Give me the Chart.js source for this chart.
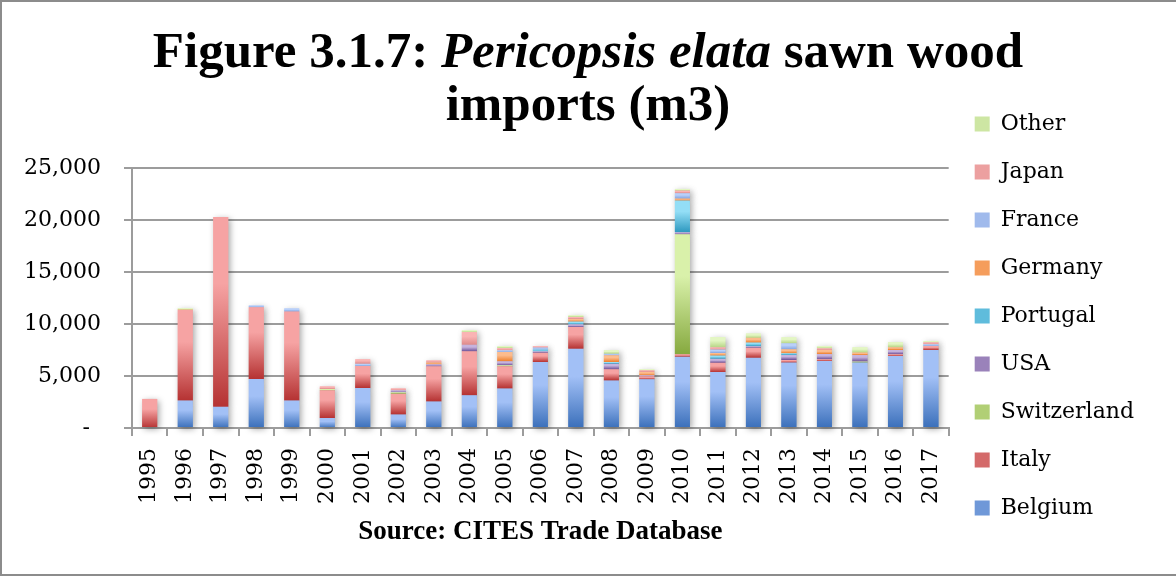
<!DOCTYPE html>
<html>
<head>
<meta charset="utf-8">
<script src="https://cdn.jsdelivr.net/npm/chart.js@4.4.1/dist/chart.umd.min.js"></script>
<style>
  html, body { margin: 0; padding: 0; background: #fff; }
  #wrap { position: relative; width: 1176px; height: 577px; overflow: hidden; background: #fff; }
  #chart { position: absolute; left: 0; top: 0; }
  #title { position: absolute; left: 0; top: 24px; width: 1176px; text-align: center;
           font-family: 'Liberation Serif', serif; font-weight: bold; font-size: 51px; line-height: 53px; color: #000; }
  #frame { position: absolute; left: 0; top: 0; width: 1176px; height: 576px; box-sizing: border-box;
           border-top: 2px solid #8c8c8c; border-left: 2px solid #8c8c8c; border-bottom: 2px solid #8c8c8c; pointer-events: none; }
</style>
</head>
<body>
<div id="wrap">
  <canvas id="chart" width="1176" height="577"></canvas>
  <div id="title">Figure 3.1.7: <i>Pericopsis elata</i> sawn wood<br>imports (m3)</div>
  <div id="frame"></div>
</div>
<script>
const years = ['1995','1996','1997','1998','1999','2000','2001','2002','2003','2004','2005','2006',
               '2007','2008','2009','2010','2011','2012','2013','2014','2015','2016','2017'];
//                1995  1996  1997   1998  1999  2000  2001  2002  2003  2004  2005  2006  2007  2008  2009  2010   2011  2012  2013  2014  2015  2016  2017
const belgium  = [   0, 2640,  2040, 4710, 2640,  960, 3850, 1310, 2560, 3140, 3810, 6350, 7630, 4580, 4680, 6850, 5380, 6750, 6290, 6450, 6290, 6930, 7510];
const italy    = [2800, 8700, 18250, 6910, 8570, 2660, 2110, 1990, 3370, 4230, 2120,  890, 2080, 1060,  290,  250,  890,  960,  260,  160,    0,  160,  380];
const switzerland = [0,    0,     0,    0,    0,  130,    0,  130,    0,    0,  100,    0,    0,    0,    0, 11530,   0,    0,    0,    0,  100,    0,    0];
const usa      = [   0,    0,     0,    0,    0,    0,    0,  190,  190,  640,  380,  130,  260,  550,  100,  190,  380,  160,  480,  510,  640,  420,    0];
const portugal = [   0,    0,     0,    0,    0,    0,    0,    0,    0,    0,    0,  190,  260,  160,    0, 3060,  320,  350,  160,    0,    0,    0,    0];
const germany  = [   0,   50,     0,    0,    0,    0,    0,    0,  190,    0,  900,    0,  260,  640,  320,  190,  250,  450,  380,  380,  220,  260,    0];
const france   = [   0,    0,     0,  160,  290,    0,  230,    0,    0,    0,  160,  190,    0,  160,    0,  510,  320,    0,  575,    0,    0,    0,  160];
const japan    = [   0,    0,     0,    0,    0,  250,  410,  190,  190, 1220,  220,  130,  190,    0,  160,  250,  220,    0,    0,  160,    0,    0,  190];
const other    = [   0,  130,     0,    0,    0,    0,    0,    0,    0,  160,  190,    0,  160,  320,  100,  160,  990,  410,  575,  230,  510,  480,  130];

const seriesNames = ['Belgium','Italy','Switzerland','USA','Portugal','Germany','France','Japan','Other'];
const seriesData  = [belgium, italy, switzerland, usa, portugal, germany, france, japan, other];
const topColors   = ['#a2c0f6','#f6a3a3','#d9f1aa','#c6b3de','#93def6','#fcbc8e','#b9d0fa','#fab4b4','#e3f6c3'];
const botColors   = ['#3a6fba','#b53232','#86a93f','#6d4f95','#2d98bf','#ee7f2c','#86a5de','#de8a8a','#b6d585'];
const legColors   = ['#6f98d8','#d46a6a','#b1cf75','#9a82ba','#5fbcdc','#f59d5c','#a0baec','#eca0a0','#cde6a3'];

const yTicks = [0, 5000, 10000, 15000, 20000, 25000];
const xTitle = 'Source: CITES Trade Database';

function gradientFor(si) {
  return function(ctx) {
    const chart = ctx.chart;
    if (!chart.chartArea || ctx.type !== 'data' || !chart.scales.y) return legColors[si];
    const i = ctx.dataIndex, d = ctx.datasetIndex;
    let start = 0;
    for (let k = 0; k < d; k++) start += chart.data.datasets[k].data[i];
    const end = start + chart.data.datasets[d].data[i];
    const y = chart.scales.y;
    const yTop = y.getPixelForValue(end), yBot = y.getPixelForValue(start);
    if (!isFinite(yTop) || !isFinite(yBot) || yBot - yTop < 0.5) return botColors[si];
    const g = chart.ctx.createLinearGradient(0, yTop, 0, yBot);
    g.addColorStop(0, topColors[si]);
    g.addColorStop(0.35, topColors[si]);
    g.addColorStop(1, botColors[si]);
    return g;
  };
}

const datasets = seriesNames.map((name, si) => ({
  label: name,
  data: seriesData[si],
  backgroundColor: gradientFor(si),
  borderWidth: 0,
  categoryPercentage: 1.0,
  barPercentage: 0.42
}));

const shadowPlugin = {
  id: 'barShadow',
  beforeDatasetsDraw(chart) {
    const ctx = chart.ctx;
    ctx.save();
    ctx.shadowColor = 'rgba(0,0,0,0.35)';
    ctx.shadowBlur = 6;
    ctx.shadowOffsetX = 2;
    ctx.shadowOffsetY = 2;
    chart.getSortedVisibleDatasetMetas().forEach(meta => meta.data.forEach(el => el.draw(ctx)));
    ctx.restore();
  }
};

const gridGray = '#9c9c9c';
const tickFont = { family: "'DejaVu Serif'", size: 22 };

new Chart(document.getElementById('chart'), {
  type: 'bar',
  data: { labels: years, datasets },
  options: {
    responsive: false,
    devicePixelRatio: 1,
    animation: false,
    layout: { padding: { top: 87, left: 1, right: 32, bottom: 28.6 } },
    plugins: {
      title: { display: true, text: '', fullSize: false, padding: { top: 0, bottom: 0 },
               font: { size: 10, lineHeight: 8.1 } },
      legend: {
        position: 'right',
        align: 'start',
        reverse: true,
        labels: {
          font: { family: "'DejaVu Serif'", size: 22 },
          color: '#000',
          boxWidth: 15,
          boxHeight: 15,
          padding: 26,
          generateLabels(chart) {
            const items = Chart.defaults.plugins.legend.labels.generateLabels(chart);
            items.forEach(it => { it.fillStyle = legColors[it.datasetIndex]; it.strokeStyle = legColors[it.datasetIndex]; it.lineWidth = 0; });
            return items;
          }
        }
      },
      tooltip: { enabled: false }
    },
    scales: {
      x: {
        stacked: true,
        grid: { display: true, offset: true, drawOnChartArea: false, drawTicks: true, tickLength: 8, color: gridGray, lineWidth: 2 },
        border: { display: true, color: gridGray, width: 2 },
        ticks: { font: tickFont, color: '#000', minRotation: 90, maxRotation: 90, padding: 12, autoSkip: false },
        title: { display: true, text: xTitle, color: '#000',
                 font: { family: "'Liberation Serif'", size: 27, weight: 'bold', lineHeight: 1.2 },
                 padding: { top: 0, bottom: 0 } }
      },
      y: {
        stacked: true,
        min: 0, max: 25000,
        afterBuildTicks(axis) { axis.ticks = yTicks.map(v => ({ value: v })); },
        grid: { color: gridGray, lineWidth: 2, tickLength: 8, drawTicks: true },
        border: { display: true, color: gridGray, width: 2 },
        ticks: {
          font: tickFont, color: '#000', padding: 23,
          callback: v => v === 0 ? '-\u2002' : Number(v).toLocaleString('en-US')
        }
      }
    }
  },
  plugins: [shadowPlugin]
});
</script>
</body>
</html>
